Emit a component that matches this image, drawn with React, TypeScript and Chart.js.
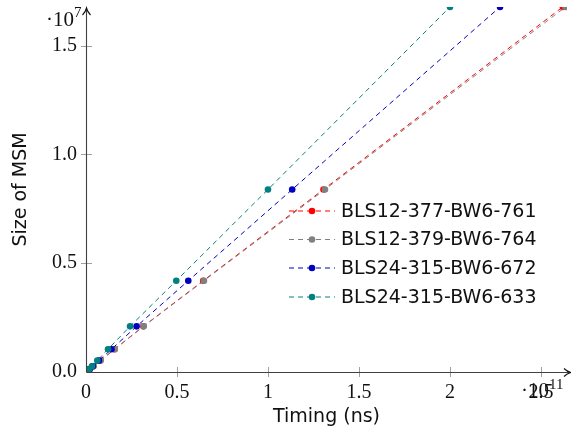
import React, { useEffect, useRef } from 'react';
import { Chart, registerables } from 'chart.js';

Chart.register(...registerables);

// MSM sizes (2^10 .. 2^24)
const msmSizes = [1024, 2048, 4096, 8192, 16384, 32768, 65536, 131072, 262144, 524288, 1048576, 2097152, 4194304, 8388608, 16777216];

// Timings in ns
const timeBls12_377 = [3.9e7, 6.4e7, 1.08e8, 1.87e8, 3.25e8, 5.9e8, 1.08e9, 2.07e9, 4.05e9, 7.9e9, 1.57e10, 3.15e10, 6.44e10, 1.305e11, 2.62e11];
const timeBls12_379 = [4.0e7, 6.5e7, 1.1e8, 1.9e8, 3.3e8, 6.0e8, 1.1e9, 2.1e9, 4.1e9, 8.0e9, 1.58e10, 3.17e10, 6.48e10, 1.313e11, 2.635e11];
const timeBls24_672 = [3.8e7, 6.0e7, 1.0e8, 1.7e8, 3.0e8, 5.5e8, 1.0e9, 1.9e9, 3.7e9, 7.1e9, 1.4e10, 2.78e10, 5.62e10, 1.133e11, 2.275e11];
const timeBls24_633 = [3.5e7, 5.5e7, 9.0e7, 1.6e8, 2.8e8, 5.0e8, 9.0e8, 1.7e9, 3.3e9, 6.2e9, 1.21e10, 2.42e10, 4.96e10, 1.0e11, 2.0e11];

const seriesLabels = ['BLS12-377-BW6-761', 'BLS12-379-BW6-764', 'BLS24-315-BW6-672', 'BLS24-315-BW6-633'];
const seriesColors = ['#ff0000', '#808080', '#0000bf', '#008080'];

const xTickValues = [0, 0.5e11, 1e11, 1.5e11, 2e11, 2.5e11];
const xTickLabels = ['0', '0.5', '1', '1.5', '2', '2.5'];
const yTickValues = [0, 0.5e7, 1e7, 1.5e7];
const yTickLabels = ['0.0', '0.5', '1.0', '1.5'];

const xAxisTitle = 'Timing (ns)';
const yAxisTitle = 'Size of MSM';
const xExponent = '11';
const yExponent = '7';

const W = 571;
const H = 434;
const AREA_LEFT = 86;
const AREA_BOTTOM = 372;
const AREA_TOP = 7;
const X_MAX = 2.643e11;
const Y_MAX = 1.6774e7;

const serif = '"Liberation Serif", "Times New Roman", serif';
const sans = '"DejaVu Sans", sans-serif';

const decorPlugin = {
  id: 'decor',
  afterDatasetsDraw(chart: any) {
    const ctx = chart.ctx as CanvasRenderingContext2D;
    const xs = chart.scales.x;
    const ys = chart.scales.y;
    const x0 = xs.getPixelForValue(0);
    const y0 = ys.getPixelForValue(0);
    ctx.save();
    // tick marks
    ctx.strokeStyle = '#a0a0a0';
    ctx.lineWidth = 1;
    xTickValues.forEach((v) => {
      if (v === 0) return;
      const px = Math.round(xs.getPixelForValue(v)) + 0.5;
      ctx.beginPath();
      ctx.moveTo(px, y0 - 5);
      ctx.lineTo(px, y0 + 5);
      ctx.stroke();
    });
    yTickValues.forEach((v) => {
      if (v === 0) return;
      const py = Math.round(ys.getPixelForValue(v)) + 0.5;
      ctx.beginPath();
      ctx.moveTo(x0 - 5, py);
      ctx.lineTo(x0 + 6, py);
      ctx.stroke();
    });
    // axis lines
    ctx.strokeStyle = '#404040';
    ctx.lineWidth = 1.1;
    const ax = Math.round(x0) + 0.5;
    const ay = Math.round(y0) + 0.5;
    ctx.beginPath();
    ctx.moveTo(ax, ay);
    ctx.lineTo(ax, 9);
    ctx.moveTo(ax, ay);
    ctx.lineTo(571, ay);
    ctx.stroke();
    // arrows
    ctx.strokeStyle = '#111';
    ctx.lineWidth = 1.1;
    ctx.beginPath();
    ctx.moveTo(ax - 4, 15);
    ctx.quadraticCurveTo(ax - 1, 12, ax, 8);
    ctx.quadraticCurveTo(ax + 1, 12, ax + 4, 15);
    ctx.stroke();
    ctx.beginPath();
    ctx.moveTo(564, ay - 4);
    ctx.quadraticCurveTo(567, ay - 1, 571, ay);
    ctx.quadraticCurveTo(567, ay + 1, 564, ay + 4);
    ctx.stroke();
    // exponents
    ctx.fillStyle = '#111';
    ctx.textBaseline = 'alphabetic';
    ctx.textAlign = 'right';
    ctx.font = `21px ${serif}`;
    ctx.fillText('\u00b710', 74, 26);
    ctx.textAlign = 'left';
    ctx.font = `15px ${serif}`;
    ctx.fillText(yExponent, 74, 17);
    ctx.textAlign = 'right';
    ctx.font = `21px ${serif}`;
    ctx.fillText('\u00b710', 549, 397);
    ctx.textAlign = 'left';
    ctx.font = `15px ${serif}`;
    ctx.fillText(xExponent, 549, 389);
    // legend
    const rowY = [211, 239.5, 268, 297];
    chart.data.datasets.forEach((ds: any, i: number) => {
      const y = rowY[i];
      ctx.strokeStyle = ds.borderColor;
      ctx.lineWidth = 1;
      ctx.setLineDash([5, 4]);
      ctx.beginPath();
      ctx.moveTo(289, y);
      ctx.lineTo(335, y);
      ctx.stroke();
      ctx.setLineDash([]);
      ctx.fillStyle = ds.pointBackgroundColor;
      ctx.beginPath();
      ctx.arc(312, y, 3.3, 0, Math.PI * 2);
      ctx.fill();
      ctx.fillStyle = '#111';
      ctx.font = `19px ${sans}`;
      ctx.textAlign = 'left';
      ctx.textBaseline = 'middle';
      ctx.fillText(ds.label, 341, y + 1);
    });
    ctx.restore();
  },
};

function makeDataset(i: number, times: number[], order: number) {
  return {
    label: seriesLabels[i],
    data: times.map((t, k) => ({ x: t, y: msmSizes[k] })),
    borderColor: seriesColors[i],
    backgroundColor: seriesColors[i],
    pointBackgroundColor: seriesColors[i],
    pointBorderColor: seriesColors[i],
    pointBorderWidth: 0,
    pointRadius: 3.3,
    borderWidth: 1,
    borderDash: [5, 4],
    showLine: true,
    order,
  };
}

export default function App() {
  const canvasRef = useRef<HTMLCanvasElement | null>(null);
  useEffect(() => {
    if (!canvasRef.current) return;
    const chart = new Chart(canvasRef.current, {
      type: 'scatter',
      data: {
        datasets: [
          makeDataset(0, timeBls12_377, 4),
          makeDataset(1, timeBls12_379, 3),
          makeDataset(2, timeBls24_672, 2),
          makeDataset(3, timeBls24_633, 1),
        ],
      },
      options: {
        responsive: false,
        animation: false,
        devicePixelRatio: 1,
        layout: { padding: { top: AREA_TOP, right: 0, left: 0, bottom: 0 } },
        plugins: { legend: { display: false }, tooltip: { enabled: false } },
        scales: {
          x: {
            type: 'linear',
            min: 0,
            max: X_MAX,
            afterFit(scale: any) {
              scale.height = H - AREA_BOTTOM;
              scale.paddingLeft = 0;
              scale.paddingRight = 0;
            },
            afterBuildTicks(scale: any) { scale.ticks = xTickValues.map((v) => ({ value: v })); },
            grid: { display: false, drawTicks: false },
            border: { display: false },
            ticks: {
              padding: 9,
              maxRotation: 0,
              autoSkip: false,
              color: '#111',
              font: { family: serif, size: 20 },
              callback: (v: any) => xTickLabels[xTickValues.indexOf(Number(v))] ?? '',
            },
            title: { display: true, text: xAxisTitle, color: '#111', font: { family: sans, size: 19 }, padding: { top: 0, bottom: 6 } },
          },
          y: {
            type: 'linear',
            min: 0,
            max: Y_MAX,
            afterFit(scale: any) {
              scale.width = AREA_LEFT;
              scale.paddingTop = 0;
              scale.paddingBottom = 0;
            },
            afterBuildTicks(scale: any) { scale.ticks = yTickValues.map((v) => ({ value: v })); },
            grid: { display: false, drawTicks: false },
            border: { display: false },
            ticks: {
              padding: 9,
              autoSkip: false,
              color: '#111',
              font: { family: serif, size: 20 },
              callback: (v: any) => yTickLabels[yTickValues.indexOf(Number(v))] ?? '',
            },
            title: { display: true, text: yAxisTitle, color: '#111', font: { family: sans, size: 19 }, padding: { top: 10, bottom: 0 } },
          },
        },
        elements: { point: { hitRadius: 0 } },
      },
      plugins: [decorPlugin],
    } as any);
    return () => chart.destroy();
  }, []);
  return (
    <div style={{ position: 'fixed', left: 0, top: 0, width: W, height: H, background: '#fff' }}>
      <canvas ref={canvasRef} width={W} height={H} />
    </div>
  );
}
